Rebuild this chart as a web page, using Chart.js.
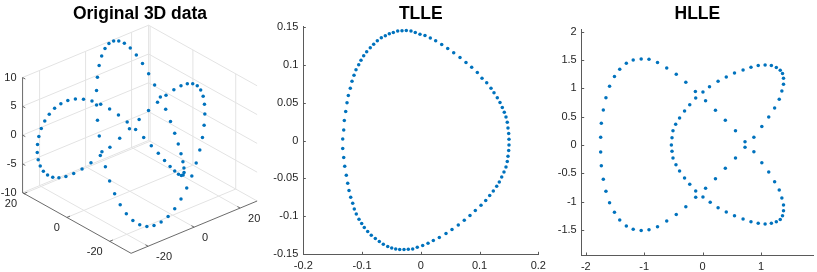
<!DOCTYPE html>
<html>
<head>
<meta charset="utf-8">
<script src="https://cdn.jsdelivr.net/npm/chart.js@4"></script>
<style>
  body { margin: 0; background: #fff; }
  #wrap { position: relative; width: 817px; height: 272px; overflow: hidden; }
  canvas { position: absolute; top: 0; }
</style>
</head>
<body>
<div id="wrap">
  <canvas id="knot" width="272" height="272" style="left:0"></canvas>
  <canvas id="tlle" width="290" height="272" style="left:262px"></canvas>
  <canvas id="hlle" width="265" height="272" style="left:552px"></canvas>
</div>
<script>
// original 3D data (trefoil knot samples)
const knotX = [0.00, 3.17, 6.29, 9.33, 12.24, 14.98, 17.52, 19.82, 21.86, 23.60, 25.03, 26.12, 26.88, 27.28, 27.34, 27.05, 26.42, 25.46, 24.22, 22.68, 20.89, 18.89, 16.69, 14.35, 11.90, 9.36, 6.81, 4.27, 1.77, -0.63, -2.91, -5.03, -6.95,
  -8.66, -10.13, -11.33, -12.25, -12.87, -13.21, -13.25, -13.01, -12.50, -11.70, -10.68, -9.43, -7.99, -6.39, -4.66, -2.84, -0.96, 0.95, 2.84, 4.66, 6.38, 7.98, 9.42, 10.68, 11.70, 12.50, 13.00, 13.25, 13.21, 12.88, 12.25, 11.33, 10.13,
  8.66, 6.95, 5.03, 2.91, 0.63, -1.77, -4.27, -6.81, -9.36, -11.90, -14.35, -16.69, -18.89, -20.89, -22.68, -24.22, -25.46, -26.42, -27.05, -27.34, -27.28, -26.88, -26.12, -25.03, -23.60, -21.86, -19.82, -17.52, -14.98, -12.24, -9.33, -6.29, -3.17];
const knotY = [-10.00, -9.86, -9.44, -8.75, -7.80, -6.61, -5.19, -3.58, -1.81, 0.11, 2.12, 4.19, 6.29, 8.37, 10.40, 12.34, 14.15, 15.80, 17.26, 18.48, 19.44, 20.13, 20.52, 20.62, 20.38, 19.84, 18.95, 17.77, 16.28, 14.50, 12.46, 10.17, 7.68,
  5.00, 2.18, -0.73, -3.70, -6.70, -9.66, -12.57, -15.37, -18.02, -20.50, -22.74, -24.72, -26.43, -27.81, -28.88, -29.60, -29.96, -29.95, -29.60, -28.88, -27.81, -26.43, -24.71, -22.74, -20.50, -18.03, -15.38, -12.59, -9.67, -6.70, -3.71, -0.73, 2.18,
  5.00, 7.68, 10.17, 12.46, 14.50, 16.28, 17.77, 18.95, 19.84, 20.38, 20.62, 20.52, 20.13, 19.44, 18.48, 17.26, 15.80, 14.15, 12.34, 10.40, 8.37, 6.29, 4.19, 2.12, 0.11, -1.81, -3.58, -5.19, -6.61, -7.80, -8.75, -9.44, -9.86];
const knotZ = [0.00, -1.89, -3.72, -5.41, -6.90, -8.15, -9.10, -9.72, -9.99, -9.90, -9.45, -8.66, -7.56, -6.18, -4.58, -2.82, -0.95, 0.95, 2.82, 4.58, 6.18, 7.56, 8.66, 9.45, 9.90, 9.99, 9.72, 9.10, 8.15, 6.90, 5.41, 3.72, 1.89,
  0.00, -1.89, -3.72, -5.41, -6.90, -8.15, -9.10, -9.72, -9.99, -9.90, -9.45, -8.66, -7.56, -6.18, -4.58, -2.82, -0.95, 0.95, 2.82, 4.58, 6.18, 7.56, 8.66, 9.45, 9.90, 9.99, 9.72, 9.10, 8.15, 6.90, 5.41, 3.72, 1.89,
  0.00, -1.89, -3.72, -5.41, -6.90, -8.15, -9.10, -9.72, -9.99, -9.90, -9.45, -8.66, -7.56, -6.18, -4.58, -2.82, -0.95, 0.95, 2.82, 4.58, 6.18, 7.56, 8.66, 9.45, 9.90, 9.99, 9.72, 9.10, 8.15, 6.90, 5.41, 3.72, 1.89];
const knotXTicks = [-20, 0, 20];
const knotYTicks = [-20, 0, 20];
const knotZTicks = [-10, -5, 0, 5, 10];

// TLLE embedding
const tlleX = [-0.0094, -0.0167, -0.0247, -0.0320, -0.0393, -0.0468, -0.0536, -0.0604, -0.0672, -0.0740, -0.0802, -0.0860, -0.0921, -0.0972, -0.1018, -0.1057, -0.1103, -0.1137, -0.1171, -0.1200,
  -0.1234, -0.1256, -0.1278, -0.1302, -0.1312, -0.1329, -0.1329, -0.1312, -0.1295, -0.1268, -0.1244, -0.1222, -0.1193, -0.1159, -0.1132, -0.1098, -0.1052, -0.1006, -0.0962, -0.0904,
  -0.0843, -0.0774, -0.0706, -0.0638, -0.0563, -0.0495, -0.0427, -0.0359, -0.0286, -0.0213, -0.0138, -0.0060,
  0.0032, 0.0123, 0.0213, 0.0315, 0.0429, 0.0531, 0.0638, 0.0740, 0.0837, 0.0928, 0.1025, 0.1105, 0.1173, 0.1234, 0.1292, 0.1336, 0.1377, 0.1416, 0.1450, 0.1472,
  0.1484, 0.1496, 0.1501, 0.1501, 0.1496, 0.1484, 0.1472, 0.1450, 0.1421, 0.1387, 0.1348, 0.1302, 0.1246, 0.1195, 0.1122, 0.1042, 0.0962, 0.0866, 0.0769, 0.0667,
  0.0560, 0.0458, 0.0356, 0.0253, 0.0162, 0.0071, -0.0014];
const tlleY = [0.1425, 0.1442, 0.1451, 0.1446, 0.1442, 0.1425, 0.1406, 0.1380, 0.1354, 0.1314, 0.1270, 0.1222, 0.1169, 0.1116, 0.1059, 0.0997, 0.0931, 0.0861, 0.0782, 0.0690,
  0.0594, 0.0496, 0.0383, 0.0264, 0.0140, 0.0021, -0.0106, -0.0224, -0.0339, -0.0458, -0.0563, -0.0660, -0.0748, -0.0827, -0.0902, -0.0968, -0.1038, -0.1095, -0.1148, -0.1201,
  -0.1249, -0.1293, -0.1332, -0.1368, -0.1398, -0.1417, -0.1430, -0.1438, -0.1438, -0.1434, -0.1430, -0.1408,
  -0.1385, -0.1355, -0.1319, -0.1280, -0.1227, -0.1174, -0.1113, -0.1051, -0.0989, -0.0923, -0.0854, -0.0792, -0.0726, -0.0665, -0.0603, -0.0546, -0.0480, -0.0414, -0.0348, -0.0277,
  -0.0207, -0.0132, -0.0058, 0.0017, 0.0092, 0.0166, 0.0241, 0.0311, 0.0373, 0.0435, 0.0501, 0.0562, 0.0628, 0.0690, 0.0760, 0.0822, 0.0897, 0.0967, 0.1029, 0.1095,
  0.1156, 0.1214, 0.1266, 0.1314, 0.1350, 0.1385, 0.1402];
const tlleXTicks = [-0.2, -0.1, 0, 0.1, 0.2];
const tlleYTicks = [-0.15, -0.1, -0.05, 0, 0.05, 0.1, 0.15];

// HLLE embedding
const hlleX = [-1.052, -0.918, -0.772, -0.614, -0.451, -0.287, -0.124,
  0.051, 0.220, 0.389, 0.563, 0.726, 0.878, 1.014, 1.132, 1.233, 1.312, 1.357, 1.385, 1.385, 1.368, 1.329, 1.262, 1.177, 1.070, 0.952, 0.828, 0.693, 0.546, 0.405, 0.265, 0.130, 0.006, -0.118,
  -0.220, -0.309, -0.394, -0.456, -0.507, -0.524, -0.535, -0.524, -0.507, -0.461, -0.394, -0.309, -0.220, -0.118, 0.006,
  0.118, 0.265, 0.405, 0.546, 0.693, 0.828, 0.952, 1.070, 1.177, 1.262, 1.329, 1.368, 1.385, 1.385, 1.357, 1.312, 1.233, 1.132, 1.014, 0.878, 0.726, 0.563, 0.389, 0.220, 0.051, -0.118,
  -0.287, -0.451, -0.614, -0.772, -0.918, -1.052, -1.188, -1.306, -1.419, -1.509, -1.593, -1.655, -1.700, -1.734, -1.745, -1.745, -1.734, -1.700, -1.655, -1.593, -1.509, -1.419, -1.306, -1.188];
const hlleY = [1.518, 1.512, 1.453, 1.359, 1.247, 1.106, 0.941,
  0.782, 0.612, 0.435, 0.253, 0.059, -0.118, -0.312, -0.476, -0.647, -0.794, -0.935, -1.059, -1.159, -1.247, -1.312, -1.353, -1.382, -1.394, -1.382, -1.353, -1.306, -1.247, -1.182, -1.106, -1.012, -0.918, -0.812,
  -0.694, -0.582, -0.459, -0.347, -0.229, -0.112, 0.000, 0.129, 0.253, 0.365, 0.476, 0.600, 0.711, 0.829, 0.935,
  1.029, 1.123, 1.200, 1.271, 1.323, 1.370, 1.400, 1.412, 1.400, 1.365, 1.317, 1.259, 1.176, 1.071, 0.953, 0.806, 0.653, 0.494, 0.324, 0.135, -0.041, -0.229, -0.412, -0.594, -0.765, -0.923,
  -1.088, -1.224, -1.341, -1.441, -1.494, -1.506, -1.488, -1.429, -1.323, -1.188, -1.018, -0.818, -0.606, -0.365, -0.124, 0.135, 0.382, 0.618, 0.835, 1.035, 1.206, 1.335, 1.441, 1.500];
const hlleXTicks = [-2, -1, 0, 1];
const hlleYTicks = [-1.5, -1, -0.5, 0, 0.5, 1, 1.5, 2];

const BLUE = "#0072BD";
const AXIS = "#5a5a5a";
const GRID = "#e3e3e3";
const TEXT = "#262626";
const FONT = "'Liberation Sans', Arial, Helvetica, sans-serif";
const titleFont = { family: FONT, size: 17.5, weight: "bold" };
const tickFont = { family: FONT, size: 11 };

// 3D view: page position of the front-bottom box corner and the box edges along x, y, z
const VIEW = { ox: 132.5, oy: 253.3, ex: [127.5, -52.3], ey: [-109.8, -60.6], ez: [0, -115.2] };
const X_LIM = [-27.4, 27.4], Y_LIM = [-30, 20.7], Z_LIM = [-10, 10];

function project(x, y, z) {
  const fx = (x - X_LIM[0]) / (X_LIM[1] - X_LIM[0]);
  const fy = (y - Y_LIM[0]) / (Y_LIM[1] - Y_LIM[0]);
  const fz = (z - Z_LIM[0]) / (Z_LIM[1] - Z_LIM[0]);
  return {
    x: VIEW.ox + fx * VIEW.ex[0] + fy * VIEW.ey[0] + fz * VIEW.ez[0],
    y: VIEW.oy + fx * VIEW.ex[1] + fy * VIEW.ey[1] + fz * VIEW.ez[1],
  };
}

// box, grid, axes and labels of the 3D panel, drawn through the chart's scales
const box3d = {
  id: "box3d",
  beforeDatasetsDraw(chart) {
    const { ctx, scales } = chart;
    const pt = (x, y, z) => {
      const p = project(x, y, z);
      return [scales.x.getPixelForValue(p.x), scales.y.getPixelForValue(p.y)];
    };
    const line = (a, b) => {
      ctx.moveTo(a[0], a[1]);
      ctx.lineTo(b[0], b[1]);
    };
    const [x0, x1] = X_LIM, [y0, y1] = Y_LIM, [z0, z1] = Z_LIM;
    ctx.save();
    ctx.strokeStyle = GRID;
    ctx.lineWidth = 1;
    ctx.beginPath();
    knotXTicks.forEach((v) => {
      line(pt(v, y0, z0), pt(v, y1, z0));
      line(pt(v, y1, z0), pt(v, y1, z1));
    });
    knotYTicks.forEach((v) => {
      line(pt(x0, v, z0), pt(x1, v, z0));
      line(pt(x1, v, z0), pt(x1, v, z1));
    });
    knotZTicks.forEach((v) => {
      line(pt(x0, y1, v), pt(x1, y1, v));
      line(pt(x1, y1, v), pt(x1, y0, v));
    });
    line(pt(x1, y1, z0), pt(x1, y1, z1));
    ctx.stroke();

    ctx.strokeStyle = AXIS;
    ctx.lineWidth = 0.9;
    ctx.beginPath();
    line(pt(x0, y0, z0), pt(x1, y0, z0));
    line(pt(x0, y0, z0), pt(x0, y1, z0));
    line(pt(x0, y1, z0), pt(x0, y1, z1));
    const tx = (x1 - x0) * 0.025, ty = (y1 - y0) * 0.025;
    knotXTicks.forEach((v) => line(pt(v, y0, z0), pt(v, y0 + ty, z0)));
    knotYTicks.forEach((v) => line(pt(x0, v, z0), pt(x0 + tx, v, z0)));
    knotZTicks.forEach((v) => line(pt(x0, y1, v), pt(x0, y1 - ty, v)));
    ctx.stroke();

    ctx.fillStyle = TEXT;
    ctx.font = `${tickFont.size}px ${FONT}`;
    ctx.textBaseline = "middle";
    ctx.textAlign = "left";
    knotXTicks.forEach((v) => {
      const p = pt(v, y0, z0);
      ctx.fillText(String(v), p[0] + 8, p[1] + 11);
    });
    ctx.textAlign = "right";
    knotYTicks.forEach((v) => {
      const p = pt(x0, v, z0);
      ctx.fillText(String(v), p[0] - 7, p[1] + 10.5);
    });
    knotZTicks.forEach((v) => {
      const p = pt(x0, y1, v);
      ctx.fillText(String(v), p[0] - 6, p[1]);
    });
    ctx.restore();
  },
};

// MATLAB style ticks pointing into the plot
const inwardTicks = {
  id: "inwardTicks",
  afterDraw(chart) {
    const { ctx, chartArea: a, scales } = chart;
    ctx.save();
    ctx.strokeStyle = AXIS;
    ctx.lineWidth = 1;
    ctx.beginPath();
    scales.x.ticks.forEach((t) => {
      const px = Math.round(scales.x.getPixelForValue(t.value)) + 0.5;
      ctx.moveTo(px, a.bottom);
      ctx.lineTo(px, a.bottom - 2.5);
    });
    scales.y.ticks.forEach((t) => {
      const py = Math.round(scales.y.getPixelForValue(t.value)) + 0.5;
      ctx.moveTo(a.left, py);
      ctx.lineTo(a.left + 2.5, py);
    });
    ctx.stroke();
    ctx.restore();
  },
};

function toPoints(xs, ys) {
  return xs.map((x, i) => ({ x: x, y: ys[i] }));
}

function dotSet(points) {
  return {
    data: points,
    backgroundColor: BLUE,
    pointRadius: 1.75,
    pointBorderWidth: 0,
    borderWidth: 0,
  };
}

const baseOptions = {
  responsive: false,
  animation: false,
  events: [],
};

// panel 1: 3D data projected onto the page plane
new Chart(document.getElementById("knot"), {
  type: "scatter",
  data: {
    datasets: [dotSet(knotX.map((x, i) => project(x, knotY[i], knotZ[i])))],
  },
  options: {
    ...baseOptions,
    layout: { padding: { left: 12, right: 1, top: 0, bottom: 4 } },
    plugins: {
      legend: { display: false },
      tooltip: { enabled: false },
      title: {
        display: true,
        text: "Original 3D data",
        fullSize: false,
        color: "#000",
        font: titleFont,
        padding: { top: 4, bottom: 0.2 },
      },
    },
    scales: {
      x: { type: "linear", display: false, min: 12, max: 271 },
      y: { type: "linear", display: false, min: 25.2, max: 268, reverse: true },
    },
  },
  plugins: [box3d],
});

function axis2d(min, max, ticks, size, padding) {
  return {
    type: "linear",
    min: min,
    max: max,
    grid: { display: false, drawTicks: false },
    border: { display: true, color: AXIS, width: 1 },
    ticks: {
      color: TEXT,
      font: tickFont,
      padding: padding,
      callback: (v) => String(v),
    },
    afterBuildTicks: (scale) => {
      scale.ticks = ticks.map((v) => ({ value: v }));
    },
    afterFit: (scale) => {
      if (scale.isHorizontal()) scale.height = size;
      else scale.width = size;
    },
  };
}

function embeddingChart(id, title, xs, ys, xLim, yLim, xTicks, yTicks, layout) {
  return new Chart(document.getElementById(id), {
    type: "scatter",
    data: { datasets: [dotSet(toPoints(xs, ys))] },
    options: {
      ...baseOptions,
      layout: { padding: { left: 0, right: layout.right, top: 0, bottom: 0 } },
      plugins: {
        legend: { display: false },
        tooltip: { enabled: false },
        title: {
          display: true,
          text: title,
          fullSize: false,
          color: "#000",
          font: titleFont,
          padding: layout.titlePad,
        },
      },
      scales: {
        x: axis2d(xLim[0], xLim[1], xTicks, layout.xh, 5),
        y: axis2d(yLim[0], yLim[1], yTicks, layout.yw, 5),
      },
    },
    plugins: [inwardTicks],
  });
}

embeddingChart("tlle", "TLLE", tlleX, tlleY, [-0.2, 0.2], [-0.15, 0.15], tlleXTicks, tlleYTicks,
  { right: 13.7, xh: 17.7, yw: 41.3, titlePad: { top: 3.3, bottom: 2.4 } });

embeddingChart("hlle", "HLLE", hlleX, hlleY, [-2.07, 1.89], [-1.94, 2.04], hlleXTicks, hlleYTicks,
  { right: 1, xh: 17, yw: 29.7, titlePad: { top: 3.8, bottom: 4.5 } });
</script>
</body>
</html>
